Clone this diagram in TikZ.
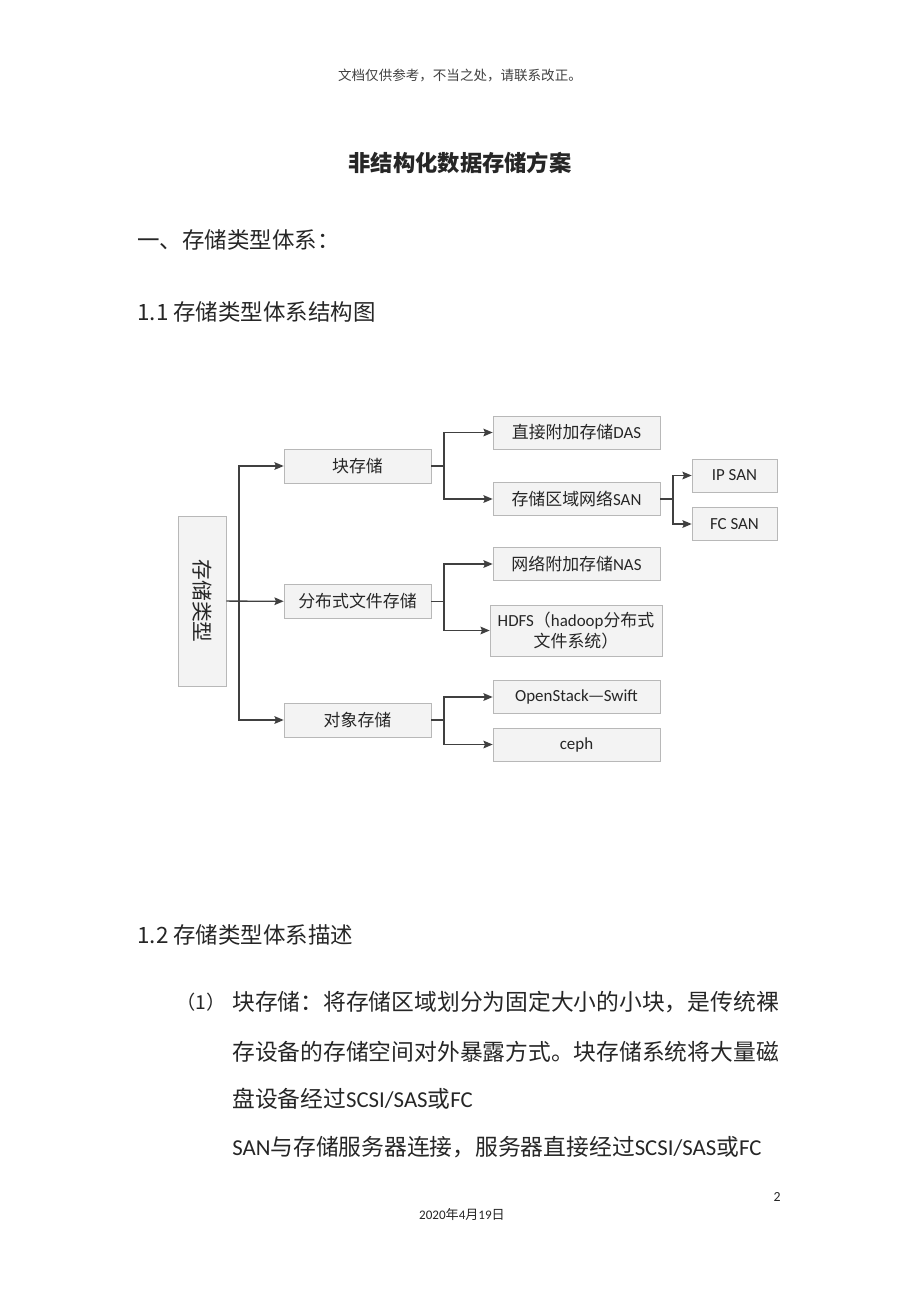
\documentclass[tikz,border=0pt]{standalone}
\usepackage{fontspec}
\setmainfont{Carlito}
\newfontfamily\cjk{Noto Sans CJK SC}
\usetikzlibrary{positioning,arrows.meta,calc}
\definecolor{boxgray}{RGB}{243,243,243}
\definecolor{linegray}{RGB}{64,64,64}

\begin{document}
\begin{tikzpicture}[x=0.65pt,y=-0.65pt,
		  every node/.style={inner sep=0pt,text=black!85},
		  box/.style={draw=black!28,fill=boxgray,align=center,font=\fontsize{11pt}{14pt}\selectfont},
		  lvone/.style={box,minimum width=95.6pt,minimum height=22.1pt},
		  lvtwo/.style={box,minimum width=108.6pt,minimum height=21.5pt},
		  lvthree/.style={box,minimum width=55.3pt,minimum height=21.5pt},
		  heading/.style={anchor=west,font=\cjk\fontsize{14.6pt}{17pt}\selectfont},
		  bodyline/.style={anchor=west,font=\fontsize{14.8pt}{17pt}\selectfont},
		  arr/.style={draw=linegray,line width=0.85pt,-{Stealth[length=6pt,width=5pt,inset=1pt]}},
		  conn/.style={draw=linegray,line width=0.85pt}
		]

			% the page
			\fill[white] (0,0) rectangle (920,1302);
			\useasboundingbox (0,0) rectangle (920,1302);

			% the texts above the chart
			\node[font=\cjk\fontsize{8.8pt}{10pt}\selectfont,text=black!75] (note) at (460,75) {文档仅供参考，不当之处，请联系改正。};
			\node[font=\cjk\bfseries\fontsize{14.5pt}{17pt}\selectfont] (title) at (460,163) {非结构化数据存储方案};
			\node[heading] (secone) at (137,240) {一、存储类型体系：};
			\node[heading] (subone) at (137,312) {1.1 存储类型体系结构图};

			% the root and the first level
			\node[box,rotate=-90,minimum width=110.5pt,minimum height=31.2pt,font=\cjk\fontsize{13.5pt}{15pt}\selectfont] (root) at (202,601) {存储类型};
			\node[lvone,font=\cjk\fontsize{11pt}{14pt}\selectfont] (blk) at (357.5,466) {块存储};
			\node[lvone,font=\cjk\fontsize{11pt}{14pt}\selectfont] (dist) at (357.5,601.5) {分布式文件存储};
			\node[lvone,font=\cjk\fontsize{11pt}{14pt}\selectfont] (obj) at (357.5,720) {对象存储};

			% the second level
			\node[lvtwo] (das) at (576.5,432.5) {{\cjk 直接附加存储}DAS};
			\node[lvtwo] (san) at (576.5,499) {{\cjk 存储区域网络}SAN};
			\node[lvtwo] (nas) at (576.5,564) {{\cjk 网络附加存储}NAS};
			\node[box,minimum width=111.8pt,minimum height=33.2pt] (hdfs) at (576,630.5) {HDFS{\cjk （}hadoop{\cjk 分布式}\\{\cjk 文件系统）}};
			\node[lvtwo] (swift) at (576.5,697) {OpenStack{\cjk —}Swift};
			\node[lvtwo] (ceph) at (576.5,744.5) {ceph};

			% the third level
			\node[lvthree] (ipsan) at (734.5,475.5) {IP SAN};
			\node[lvthree] (fcsan) at (734.5,524) {FC SAN};

			% the junctions
			\coordinate (t0) at (239,601);
			\coordinate (j1) at (444,466);
			\coordinate (j2) at (444,601.5);
			\coordinate (j3) at (444,720);
			\coordinate (j4) at (673,499);

			% the edges
			\draw[arr] (root) -- (dist);
			\draw[arr] (t0) |- (blk);
			\draw[arr] (t0) |- (obj);
			\draw[conn] (blk) -- (j1);
			\draw[arr] (j1) |- (das);
			\draw[arr] (j1) |- (san);
			\draw[conn] (dist) -- (j2);
			\draw[arr] (j2) |- (nas);
			\draw[arr] (j2) |- (hdfs);
			\draw[conn] (obj) -- (j3);
			\draw[arr] (j3) |- (swift);
			\draw[arr] (j3) |- (ceph);
			\draw[conn] (san) -- (j4);
			\draw[arr] (j4) |- (ipsan);
			\draw[arr] (j4) |- (fcsan);

			% the texts below the chart
			\node[heading] (subtwo) at (137,935) {1.2 存储类型体系描述};
			\node[anchor=west,font=\cjk\fontsize{12.5pt}{14pt}\selectfont] (num) at (176,1002) {（1）};
			\node[bodyline] (lineA) at (232,1002) {{\cjk 块存储：将存储区域划分为固定大小的小块，是传统裸}};
			\node[bodyline] (lineB) at (232,1052) {{\cjk 存设备的存储空间对外暴露方式。块存储系统将大量磁}};
			\node[bodyline] (lineC) at (232,1099) {{\cjk 盘设备经过}SCSI/SAS{\cjk 或}FC};
			\node[bodyline] (lineD) at (232,1147) {SAN{\cjk 与存储服务器连接，服务器直接经过}SCSI/SAS{\cjk 或}FC};

			% the footer
			\node[font=\fontsize{9pt}{10pt}\selectfont] (page) at (777,1197) {2};
			\node[font=\fontsize{8.5pt}{10pt}\selectfont] (date) at (462,1214) {2020{\cjk 年}4{\cjk 月}19{\cjk 日}};

		\end{tikzpicture}
\end{document}
